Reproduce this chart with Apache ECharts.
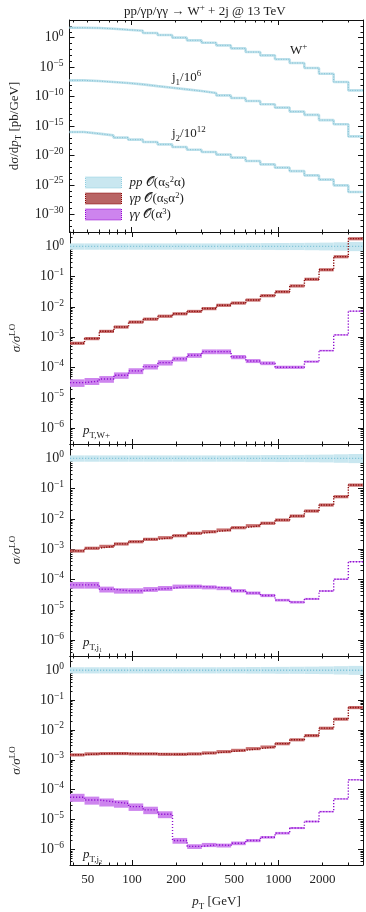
<!DOCTYPE html>
<html>
<head>
<meta charset="utf-8">
<script src="https://cdn.jsdelivr.net/npm/echarts@6/dist/echarts.min.js"></script>
<style>
  html, body { margin: 0; padding: 0; background: #fff; }
  #chart { width: 366px; height: 912px; }
</style>
</head>
<body>
<div id="chart"></div>
<script>
// pT bin edges [GeV], 20 bins
var ptEdges = [37.8, 47.5, 59.9, 75.4, 94.9, 119.5, 150.4, 189.3, 238.3, 300, 377.7,
  475.5, 598.6, 753.6, 948.7, 1194, 1504, 1893, 2383, 3000, 3777];

// top panel: dsigma/dpT [pb/GeV] for pp O(as^2 a)
var xsW = [49, 44, 33, 22, 15, 6.2, 2.8, 1.0, 0.35, 0.14, 0.049, 0.015, 3.6e-3, 1.0e-3,
  2.1e-4, 5.0e-5, 7.1e-6, 7.6e-7, 3.0e-8, 1.1e-9];
var xsJ1 = [0.056, 0.043, 0.029, 0.0195, 0.0117, 6.0e-3, 3.2e-3, 1.66e-3, 8.5e-4, 3.9e-4,
  1.58e-4, 5.6e-5, 1.74e-5, 4.8e-6, 1.32e-6, 2.8e-7, 7.9e-8, 1.0e-8, 2.0e-9, 1.7e-11];
var xsJ2 = [9.3e-5, 5.0e-5, 2.6e-5, 1.05e-5, 4.8e-6, 1.9e-6, 7.6e-7, 2.7e-7, 9.5e-8, 3.8e-8,
  1.38e-8, 4.3e-9, 1.12e-9, 3.1e-10, 8.5e-11, 2.2e-11, 4.2e-12, 7.8e-13, 8.3e-14, 6.2e-15];
var scaleJ1 = 1e-6;
var scaleJ2 = 1e-12;

// ratio panels sigma/sigma_LO
var ppLo = [0.78, 0.78, 0.78, 0.78, 0.78, 0.78, 0.78, 0.78, 0.78, 0.78, 0.78, 0.78, 0.77, 0.77,
  0.76, 0.76, 0.75, 0.74, 0.72, 0.7];
var ppHi = [1.26, 1.26, 1.26, 1.26, 1.26, 1.26, 1.26, 1.26, 1.26, 1.26, 1.26, 1.27, 1.28, 1.29,
  1.3, 1.31, 1.32, 1.34, 1.37, 1.4];

var gpW = [6.4e-4, 9.1e-4, 1.58e-3, 2.2e-3, 3.2e-3, 4.0e-3, 5.0e-3, 6.0e-3, 7.2e-3, 8.9e-3,
  1.15e-2, 1.36e-2, 1.71e-2, 2.38e-2, 3.2e-2, 5.0e-2, 8.3e-2, 0.171, 0.46, 1.81];
var ggW = [3.2e-5, 3.6e-5, 4.2e-5, 5.6e-5, 7.8e-5, 1.08e-4, 1.46e-4, 1.94e-4, 2.56e-4, 3.37e-4,
  3.37e-4, 2.25e-4, 1.66e-4, 1.40e-4, 1.03e-4, 1.03e-4, 1.58e-4, 3.64e-4, 1.2e-3, 7.3e-3];
var ggErrW = [0.28, 0.26, 0.25, 0.24, 0.22, 0.2, 0.2, 0.18, 0.18, 0.18, 0.18, 0.16, 0.15, 0.14,
  0.12, 0.12, 0.08, 0.06, 0.05, 0.04];

var gpJ1 = [8.85e-4, 1.09e-3, 1.26e-3, 1.51e-3, 1.79e-3, 2.15e-3, 2.43e-3, 2.83e-3, 3.40e-3,
  3.84e-3, 4.37e-3, 5.2e-3, 6.05e-3, 7.3e-3, 9.3e-3, 1.26e-2, 1.85e-2, 2.92e-2, 5.5e-2, 0.133];
var ggJ1 = [6.7e-5, 6.7e-5, 4.8e-5, 4.3e-5, 4.3e-5, 4.8e-5, 5.2e-5, 5.9e-5, 5.9e-5, 5.6e-5,
  5.2e-5, 4.3e-5, 3.6e-5, 3.0e-5, 2.1e-5, 1.8e-5, 2.3e-5, 4.2e-5, 1.03e-4, 3.9e-4];
var ggErrJ1 = [0.25, 0.25, 0.22, 0.2, 0.2, 0.18, 0.18, 0.16, 0.16, 0.15, 0.14, 0.13, 0.12, 0.12,
  0.1, 0.1, 0.08, 0.06, 0.05, 0.04];

var gpJ2 = [1.47e-3, 1.59e-3, 1.63e-3, 1.63e-3, 1.59e-3, 1.59e-3, 1.54e-3, 1.54e-3, 1.59e-3,
  1.71e-3, 1.89e-3, 2.09e-3, 2.38e-3, 2.70e-3, 3.48e-3, 4.71e-3, 6.5e-3, 1.15e-2, 2.32e-2, 5.65e-2];
var ggJ2 = [5.6e-5, 4.5e-5, 3.9e-5, 3.45e-5, 2.7e-5, 2.1e-5, 1.5e-5, 1.98e-6, 1.26e-6, 1.42e-6,
  1.36e-6, 1.61e-6, 1.98e-6, 2.55e-6, 3.5e-6, 5.2e-6, 8.6e-6, 1.84e-5, 4.9e-5, 2.14e-4];
var ggErrJ2 = [0.3, 0.3, 0.3, 0.28, 0.28, 0.28, 0.26, 0.22, 0.18, 0.16, 0.15, 0.14, 0.12, 0.1,
  0.1, 0.08, 0.07, 0.06, 0.05, 0.04];

var gpErr = 0.12;

var FONT = '"Liberation Serif", "DejaVu Serif", serif';
var INK = '#222';
function st(o) {
  o.fontFamily = FONT; o.color = INK; o.fontWeight = 'normal';
  return o;
}
var rich = {
  n: st({ fontSize: 13, lineHeight: 18 }),
  i: st({ fontSize: 13, fontStyle: 'italic', lineHeight: 18 }),
  sp: st({ fontSize: 9, verticalAlign: 'top', lineHeight: 10 }),
  sb: st({ fontSize: 9, verticalAlign: 'bottom', lineHeight: 10 }),
  b: st({ fontSize: 14, lineHeight: 18 }),
  e: st({ fontSize: 9.5, verticalAlign: 'top', lineHeight: 10 })
};
var richLegend = {
  n: st({ fontSize: 13, lineHeight: 15 }),
  i: st({ fontSize: 13, fontStyle: 'italic', lineHeight: 15 }),
  sp: st({ fontSize: 8.5, verticalAlign: 'top', lineHeight: 8 }),
  sb: st({ fontSize: 8.5, verticalAlign: 'bottom', lineHeight: 8 })
};

var C = {
  ppBand: '#c9e7f0', ppLine: '#86c6d9',
  gpBand: '#c86e6e', gpLine: '#8b0a0a',
  ggBand: '#cd84ee', ggLine: '#9010d0'
};

var panelTop = [20, 232, 444, 656];
var gridLeft = 68, gridW = 295, gridH = 212;

// ticks
var xMajor = [100, 1000];
var xMinor = [40, 50, 60, 70, 80, 90, 200, 300, 400, 500, 600, 700, 800, 900, 2000, 3000];
var xLabels = [50, 100, 200, 500, 1000, 2000];

function decades(a, b, step) {
  var out = [];
  for (var k = a; k <= b; k += step) out.push(Number('1e' + k));
  return out;
}
function subDecades(a, b) {
  var out = [];
  for (var k = a; k <= b; k++) for (var m = 2; m <= 9; m++) out.push(m * Number('1e' + k));
  return out;
}

function expLabel(v) {
  var e = Math.round(Math.log10(v));
  return '{b|10}{e|' + (e < 0 ? '\u2212' + (-e) : e) + '}';
}

var grids = [], xAxes = [], yAxes = [], series = [], titles = [];

panelTop.forEach(function (top, g) {
  grids.push({ left: gridLeft, top: top, width: gridW, height: gridH });
  var isTop = g === 0;
  var yMin = isTop ? 1e-33 : 3e-7;
  var yMax = isTop ? 1e3 : 3;
  var yMaj = isTop ? decades(-30, 0, 5) : decades(-6, 0, 1);
  var yMin2 = isTop ? decades(-33, 3, 1) : subDecades(-7, 0);

  ['bottom', 'top'].forEach(function (pos) {
    [true, false].forEach(function (major) {
      var showLab = major && pos === 'bottom' && g === 3;
      xAxes.push({
        type: 'log', gridIndex: g, position: pos, min: ptEdges[0], max: ptEdges[20],
        axisLine: { show: major, onZero: false, lineStyle: { color: '#111', width: 1 } },
        axisTick: { show: true, inside: true, length: major ? 5 : 2.5,
          customValues: major ? xMajor : xMinor, lineStyle: { color: '#111', width: 1 } },
        axisLabel: { show: showLab, customValues: xLabels, margin: 8,
          fontFamily: FONT, fontSize: 13, color: INK, formatter: function (v) { return String(v); } },
        splitLine: { show: false }, minorTick: { show: false },
        name: showLab ? '{i|p}{sb|T}{n| [GeV]}' : '',
        nameLocation: 'middle', nameGap: 28,
        nameTextStyle: { rich: rich }
      });
    });
  });

  ['left', 'right'].forEach(function (pos) {
    [true, false].forEach(function (major) {
      var showLab = major && pos === 'left';
      var yName = '';
      if (showLab) {
        yName = isTop ? '{n|d\u03c3/d}{i|p}{sb|T}{n| [pb/GeV]}' : '{i|\u03c3/\u03c3}{sp|LO}';
      }
      yAxes.push({
        type: 'log', gridIndex: g, position: pos, min: yMin, max: yMax,
        axisLine: { show: major, onZero: false, lineStyle: { color: '#111', width: 1 } },
        axisTick: { show: true, inside: true, length: major ? 5 : 2.5,
          customValues: major ? yMaj : yMin2, lineStyle: { color: '#111', width: 1 } },
        axisLabel: { show: showLab, customValues: yMaj, margin: 6, formatter: expLabel,
          rich: rich },
        splitLine: { show: false }, minorTick: { show: false },
        name: yName, nameLocation: 'middle', nameRotate: 90, nameGap: isTop ? 46 : 44,
        nameTextStyle: { rich: rich }
      });
    });
  });
});

function bandSeries(name, g, lo, hi, color) {
  var data = lo.map(function (l, i) { return [ptEdges[i], ptEdges[i + 1], l, hi[i]]; });
  return {
    type: 'custom', name: name, xAxisIndex: g * 4, yAxisIndex: g * 4, clip: true, silent: true,
    itemStyle: { color: color },
    encode: { x: [0, 1], y: [2, 3] },
    renderItem: function (params, api) {
      var p0 = api.coord([api.value(0), api.value(3)]);
      var p1 = api.coord([api.value(1), api.value(2)]);
      return { type: 'rect', shape: { x: p0[0], y: p0[1], width: p1[0] - p0[0], height: p1[1] - p0[1] },
        style: { fill: color } };
    },
    data: data
  };
}

function stepLine(name, g, vals, color, width, type, z) {
  var data = vals.map(function (v, i) { return [ptEdges[i], v]; });
  data.push([ptEdges[20], vals[vals.length - 1]]);
  return {
    type: 'line', name: name, xAxisIndex: g * 4, yAxisIndex: g * 4, step: 'end', data: data,
    symbol: 'none', silent: true, clip: true, z: z || 3,
    lineStyle: { color: color, width: width, type: type }
  };
}

function scaled(arr, f) { return arr.map(function (v) { return v * f; }); }
function relBand(arr, err, sign) {
  return arr.map(function (v, i) {
    var e = Array.isArray(err) ? err[i] : err;
    return v * (1 + sign * e);
  });
}

// top panel curves
[[xsW, 1], [xsJ1, scaleJ1], [xsJ2, scaleJ2]].forEach(function (c, k) {
  var v = scaled(c[0], c[1]);
  series.push(stepLine('top' + k, 0, v, '#bfe1eb', 2.6, 'solid', 2));
  series.push(stepLine('topd' + k, 0, v, '#7fc0d4', 1, [1, 1.5], 3));
});

// ratio panels
var ratioPanels = [
  { gp: gpW, gg: ggW, ggErr: ggErrW },
  { gp: gpJ1, gg: ggJ1, ggErr: ggErrJ1 },
  { gp: gpJ2, gg: ggJ2, ggErr: ggErrJ2 }
];
var ones = ppLo.map(function () { return 1; });
ratioPanels.forEach(function (p, k) {
  var g = k + 1;
  series.push(bandSeries('pp', g, ppLo, ppHi, C.ppBand));
  series.push(stepLine('ppc', g, ones, C.ppLine, 1.3, [1.2, 1.8], 3));
  series.push(bandSeries('gp', g, relBand(p.gp, gpErr, -1), relBand(p.gp, gpErr, 1), C.gpBand));
  series.push(stepLine('gpc', g, p.gp, C.gpLine, 1.4, [1.2, 1.4], 4));
  series.push(bandSeries('gg', g, relBand(p.gg, p.ggErr, -1), relBand(p.gg, p.ggErr, 1), C.ggBand));
  series.push(stepLine('ggc', g, p.gg, C.ggLine, 1.4, [1.2, 1.8], 4));
});

var legendText = {
  pp: '{i|pp} {n|\ud835\udcaa(\u03b1}{sb|S}{sp|2}{n|\u03b1)}',
  gp: '{i|\u03b3p} {n|\ud835\udcaa(\u03b1}{sb|S}{n|\u03b1}{sp|2}{n|)}',
  gg: '{i|\u03b3\u03b3} {n|\ud835\udcaa(\u03b1}{sp|3}{n|)}'
};

titles = [
  { text: '{n|pp/\u03b3p/\u03b3\u03b3 \u2192 W}{sp|+}{n| + 2j @ 13 TeV}', left: 119, top: -2 },
  { text: '{n|W}{sp|+}', left: 285, top: 37 },
  { text: '{n|j}{sb|1}{n|/10}{sp|6}', left: 167, top: 64 },
  { text: '{n|j}{sb|2}{n|/10}{sp|12}', left: 167, top: 120 },
  { text: '{i|p}{sb|T,W+}', left: 78, top: 417 },
  { text: '{i|p}{sb|T,j\u2081}', left: 78, top: 629 },
  { text: '{i|p}{sb|T,j\u2082}', left: 78, top: 841 }
].map(function (t) {
  t.textStyle = { fontWeight: 'normal', rich: rich };
  return t;
});

var chart = echarts.init(document.getElementById('chart'));
chart.setOption({
  animation: false,
  backgroundColor: '#fff',
  title: titles,
  legend: {
    left: 80, top: 170, orient: 'vertical', itemWidth: 36, itemHeight: 11, itemGap: 1,
    selectedMode: false,
    data: [
      { name: 'pp', icon: 'rect', itemStyle: { color: C.ppBand, borderColor: '#8fcde0', borderWidth: 1, borderType: 'dotted' } },
      { name: 'gp', icon: 'rect', itemStyle: { color: '#b86464', borderColor: '#8b0000', borderWidth: 1, borderType: 'dotted' } },
      { name: 'gg', icon: 'rect', itemStyle: { color: C.ggBand, borderColor: '#9400d3', borderWidth: 1, borderType: 'dotted' } }
    ],
    formatter: function (name) { return legendText[name]; },
    textStyle: { fontWeight: 'normal', rich: richLegend, padding: [0, 0, 0, 3] }
  },
  grid: grids,
  xAxis: xAxes,
  yAxis: yAxes,
  series: series
});
</script>
</body>
</html>
